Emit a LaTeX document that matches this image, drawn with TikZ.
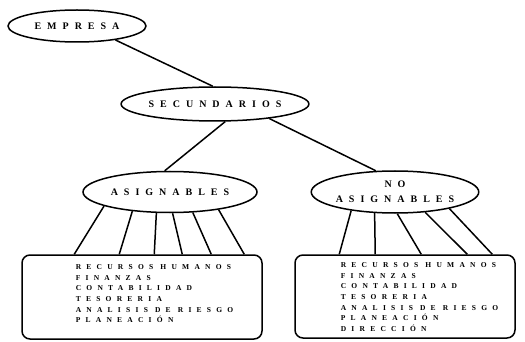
\documentclass[tikz,border=0pt]{standalone}
\usepackage{fontspec}
\setmainfont{Liberation Serif}
\newfontfamily\labelfont[LetterSpace=60]{Liberation Serif}
\newfontfamily\listfont[LetterSpace=70]{Liberation Serif}
\usetikzlibrary{shapes.geometric}

\begin{document}
\begin{tikzpicture}[x=1pt,y=-1pt,line width=1.5pt,
  oval/.style={draw,ellipse,inner sep=0pt,align=center,
    font=\labelfont\bfseries\fontsize{10}{15}\selectfont},
  listbox/.style={draw,rounded corners=8pt,inner sep=0pt},
  listtext/.style={anchor=north west,align=left,inner sep=0pt,
    font=\listfont\bfseries\fontsize{7.5}{10.6}\selectfont}]
\useasboundingbox (0,0) rectangle (525,342);

% tree of ovals
\node[oval,minimum width=138pt,minimum height=32pt] (emp) at (77,26) {EMPRESA};
\node[oval,minimum width=174pt,minimum height=34pt] (sec) at (215,104) {SECUNDARIOS};
\node[oval,minimum width=174pt,minimum height=41pt] (asig) at (170,192) {ASIGNABLES};
\node[oval,minimum width=166pt,minimum height=42pt] (noasig) at (395,192) {NO\\ASIGNABLES};

\draw (emp.340) -- (sec.97);
\draw (sec.300) -- (asig.104);
\draw (sec.345) -- (noasig.132);

% list boxes
\node[listbox,minimum width=240pt,minimum height=84pt] (lbox) at (142,297) {};
\node[listbox,minimum width=220pt,minimum height=83pt] (rbox) at (405,296.5) {};

\node[listtext] (ltext) at (75,264) {RECURSOS HUMANOS\\FINANZAS\\CONTABILIDAD\\TESORERIA\\ANALISIS DE RIESGO\\PLANEACIÓN};
\node[listtext] (rtext) at (340,262) {RECURSOS HUMANOS\\FINANZAS\\CONTABILIDAD\\TESORERIA\\ANALISIS DE RIESGO\\PLANEACIÓN\\DIRECCIÓN};

% legs from ovals to boxes
\draw (asig.192) -- ([xshift=53pt]lbox.north west);
\draw (asig.207) -- ([xshift=98pt]lbox.north west);
\draw (asig.237) -- ([xshift=133pt]lbox.north west);
\draw (asig.277) -- ([xshift=161pt]lbox.north west);
\draw (asig.318) -- ([xshift=190pt]lbox.north west);
\draw (asig.340) -- ([xshift=223pt]lbox.north west);

\draw (noasig.203) -- ([xshift=45pt]rbox.north west);
\draw (noasig.226) -- ([xshift=81pt]rbox.north west);
\draw (noasig.276) -- ([xshift=127pt]rbox.north west);
\draw (noasig.326) -- ([xshift=173pt]rbox.north west);
\draw (noasig.343) -- ([xshift=198pt]rbox.north west);
\end{tikzpicture}
\end{document}
